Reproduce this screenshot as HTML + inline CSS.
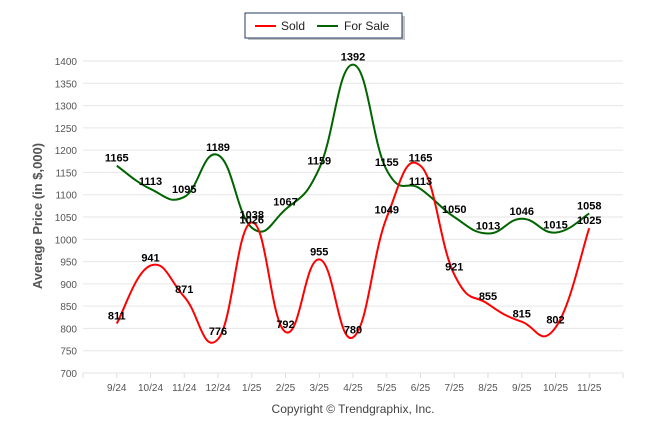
<!DOCTYPE html>
<html><head><meta charset="utf-8"><style>
body{margin:0;background:#fff;}
svg{display:block;font-family:"Liberation Sans",Arial,sans-serif;}
</style></head><body>
<svg id="chart" width="646" height="434" viewBox="0 0 646 434">
  <g id="grid"></g>
  <g id="yticks"></g>
  <g id="xticks"></g>
  <text transform="translate(42,216) rotate(-90)" text-anchor="middle" font-size="13" font-weight="bold" fill="#555">Average Price (in $,000)</text>
  <g id="series"></g>
  <g>
    <rect x="248" y="16" width="157" height="24" fill="#888" opacity="0.5"/>
    <rect x="245" y="13" width="157" height="25" fill="#fff" stroke="#1f3864" stroke-width="1"/>
    <line x1="255" y1="26" x2="276" y2="26" stroke="#ff0000" stroke-width="2"/>
    <text x="281" y="30" font-size="12" fill="#222">Sold</text>
    <line x1="317" y1="26" x2="338" y2="26" stroke="#006400" stroke-width="2"/>
    <text x="344" y="30" font-size="12" fill="#222">For Sale</text>
  </g>
  <text x="353" y="413" text-anchor="middle" font-size="12" fill="#444">Copyright © Trendgraphix, Inc.</text>
</svg>
<script>
const categories=["9/24","10/24","11/24","12/24","1/25","2/25","3/25","4/25","5/25","6/25","7/25","8/25","9/25","10/25","11/25"];
const soldValues=[811,941,871,776,1038,792,955,780,1049,1165,921,855,815,802,1025];
const forSaleValues=[1165,1113,1095,1189,1026,1067,1159,1392,1155,1113,1050,1013,1046,1015,1058];
const yTicks=[700,750,800,850,900,950,1000,1050,1100,1150,1200,1250,1300,1350,1400];

const NS="http://www.w3.org/2000/svg";
const L=83,R=623,Y0=373,Y1=61,VMIN=700,VMAX=1400;
const step=(R-L)/(categories.length+1);
function xs(i){return L+step*(i+1);}
function ys(v){return Y0-(v-VMIN)/(VMAX-VMIN)*(Y0-Y1);}
function mk(t,a,p){const e=document.createElementNS(NS,t);for(const k in a)e.setAttribute(k,a[k]);p.appendChild(e);return e;}

const grid=document.getElementById('grid'),yt=document.getElementById('yticks'),xt=document.getElementById('xticks');
yTicks.forEach(v=>{
  const l=mk('line',{x1:L,x2:R,y1:ys(v),y2:ys(v),stroke:'#e6e6e6','stroke-width':1},grid);
  
  
  const t=mk('text',{x:L-6,y:ys(v)+4,'text-anchor':'end','font-size':10,fill:'#555'},yt);
  t.textContent=v;
  
  
});
for(let i=0;i<=categories.length+1;i++){
  const x=L+step*i;
  const tk=mk('line',{x1:x,x2:x,y1:Y0,y2:Y0+5,stroke:'#ddd'},xt);
  
  
}
categories.forEach((c,i)=>{
  const t=mk('text',{x:xs(i),y:Y0+18,'text-anchor':'middle','font-size':10,fill:'#555'},xt);
  t.textContent=c;
  
  
});

function path(vals){
  const p=vals.map((v,i)=>[xs(i),ys(v)]);
  let d='M'+p[0][0]+','+p[0][1];
  const k=0.22;
  for(let i=0;i<p.length-1;i++){
    const p0=p[i-1]||p[i],p1=p[i],p2=p[i+1],p3=p[i+2]||p[i+1];
    const c1=[p1[0]+(p2[0]-p0[0])*k,p1[1]+(p2[1]-p0[1])*k];
    const c2=[p2[0]-(p3[0]-p1[0])*k,p2[1]-(p3[1]-p1[1])*k];
    d+=' C'+c1+' '+c2+' '+p2;
  }
  return d;
}
const sg=document.getElementById('series');
const fs=mk('path',{d:path(forSaleValues),fill:'none',stroke:'#006400','stroke-width':2},sg);


const sd=mk('path',{d:path(soldValues),fill:'none',stroke:'#ff0000','stroke-width':2},sg);


function labels(vals,name){
  vals.forEach((v,i)=>{
    const t=mk('text',{x:xs(i),y:ys(v)-4,'text-anchor':'middle','font-size':11,'font-weight':'bold',fill:'#000'},sg);
    t.textContent=v;
    
    
  });
}
labels(forSaleValues,'for-sale-value-label');
labels(soldValues,'sold-value-label');
</script>
</body></html>
